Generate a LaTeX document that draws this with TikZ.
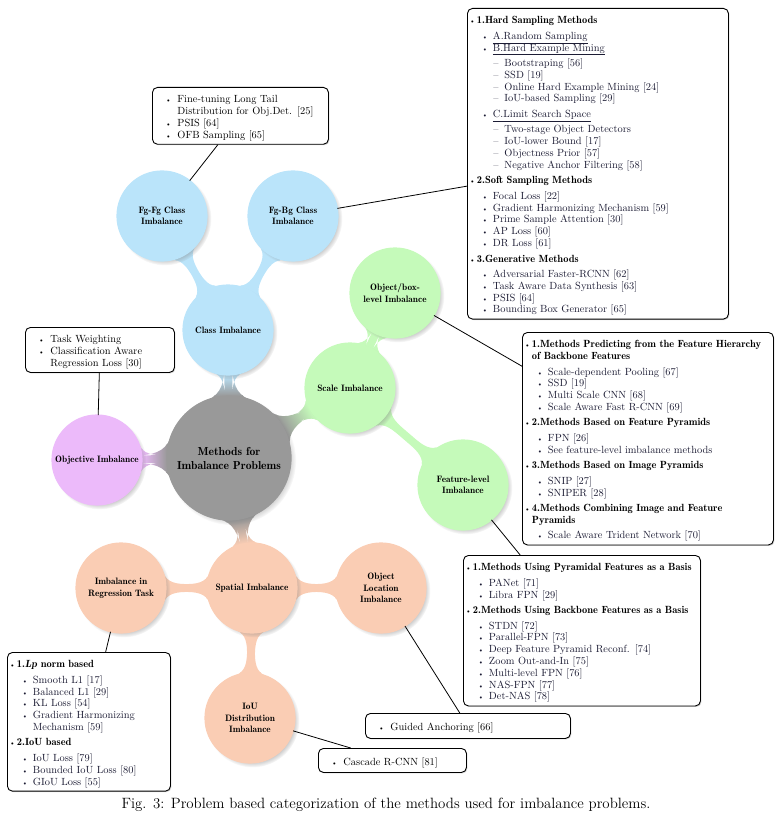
\documentclass[tikz,border=0pt]{standalone}
\usepackage{enumitem}
\usetikzlibrary{mindmap,shadows,backgrounds}

\definecolor{rootgray}{RGB}{153,153,153}
\definecolor{classblue}{RGB}{186,228,250}
\definecolor{scalegreen}{RGB}{197,250,186}
\definecolor{objpink}{RGB}{236,186,250}
\definecolor{spatialorange}{RGB}{250,205,180}
\definecolor{itemnavy}{RGB}{28,28,52}

\newcommand\heading[1]{{\fontseries{b}\selectfont#1}}
\newcommand\subhead[1]{\raisebox{0pt}[\height][0pt]{\underline{#1}}}

\newlist{catlist}{itemize}{3}
\setlist[catlist]{nosep}
\setlist[catlist,1]{label={\scriptsize\textbullet},leftmargin=5.5pt,labelsep=1.5pt,
  after=\vspace{-3.7pt}}
\setlist[catlist,2]{label={\scriptsize\textbullet},leftmargin=16pt,labelsep=5pt,topsep=3.7pt,
  before=\color{itemnavy}}
\setlist[catlist,3]{label={--},leftmargin=11.5pt,labelsep=6pt,topsep=3.7pt}
\newlist{reflist}{itemize}{1}
\setlist[reflist]{nosep,label={\scriptsize\textbullet},leftmargin=21pt,labelsep=6pt}

\begin{document}
\begin{tikzpicture}[x=1pt,y=-1pt,
    topic/.style={concept color=#1,concept,minimum size=90pt,text width=84pt,inner sep=0pt,
      align=center,font=\fontsize{9.3}{11.5}\fontseries{b}\selectfont,
      circular drop shadow={shadow scale=1.04,shadow xshift=2.5pt,shadow yshift=-2.5pt,opacity=.5}},
    branch/.style 2 args={draw=none,circle connection bar switch color=from (#1) to (#2),
      decoration={amplitude=8pt}},
    refbox/.style={draw,line width=.9pt,rounded corners=5pt,fill=white,anchor=north west,
      align=left,inner xsep=4pt,inner ysep=3.5pt,font=\fontsize{10.4}{11.8}\selectfont,
      drop shadow={shadow xshift=1pt,shadow yshift=-1pt,opacity=.35}},
    every edge/.style={draw,line width=.8pt}]

  \useasboundingbox (0,0) rectangle (778,826);

  \begin{scope}[mindmap]
  \node [topic=rootgray,minimum size=124pt,text width=118pt,
    font=\fontsize{11.6}{14}\fontseries{b}\selectfont] (root) at (229,458) {Methods for\\Imbalance Problems};

  \node [topic=classblue] (cls) at (228,330) {Class Imbalance};
  \node [topic=classblue] (fgfg) at (162,216) {Fg-Fg Class\\Imbalance};
  \node [topic=classblue] (fgbg) at (293,216) {Fg-Bg Class\\Imbalance};

  \node [topic=scalegreen] (scale) at (350,388) {Scale Imbalance};
  \node [topic=scalegreen] (objlvl) at (395,293) {Object/box-\\level Imbalance};
  \node [topic=scalegreen] (featlvl) at (463,485) {Feature-level\\Imbalance};

  \node [topic=objpink] (objective) at (97,460) {Objective Imbalance};

  \node [topic=spatialorange] (spatial) at (252,588) {Spatial Imbalance};
  \node [topic=spatialorange] (regress) at (121,588) {Imbalance in\\Regression Task};
  \node [topic=spatialorange] (objloc) at (381,588) {Object\\Location\\Imbalance};
  \node [topic=spatialorange] (ioudist) at (250,718) {IoU\\Distribution\\Imbalance};

  \begin{pgfonlayer}{background}
    \path (cls) to [branch={classblue}{rootgray}] (root);
    \path (fgfg) to [branch={classblue}{classblue}] (cls);
    \path (fgbg) to [branch={classblue}{classblue}] (cls);
    \path (scale) to [branch={scalegreen}{rootgray}] (root);
    \path (objlvl) to [branch={scalegreen}{scalegreen}] (scale);
    \path (featlvl) to [branch={scalegreen}{scalegreen}] (scale);
    \path (objective) to [branch={objpink}{rootgray}] (root);
    \path (spatial) to [branch={spatialorange}{rootgray}] (root);
    \path (regress) to [branch={spatialorange}{spatialorange}] (spatial);
    \path (objloc) to [branch={spatialorange}{spatialorange}] (spatial);
    \path (ioudist) to [branch={spatialorange}{spatialorange}] (spatial);
  \end{pgfonlayer}
  \end{scope}

  \node [refbox,text width=168pt] (fgfgrefs) at (152,87) {%
    \begin{reflist}
      \item Fine-tuning Long Tail\\Distribution for Obj.Det. [25]
      \item PSIS [64]
      \item OFB Sampling [65]
    \end{reflist}}
    edge (fgfg);

  \node [refbox,text width=253pt] (fgbgrefs) at (467,8) {%
    \begin{catlist}
      \item \heading{1.Hard Sampling Methods}
      \begin{catlist}
        \item \subhead{A.Random Sampling}
        \item \subhead{B.Hard Example Mining}
        \begin{catlist}
          \item Bootstraping [56]
          \item SSD [19]
          \item Online Hard Example Mining [24]
          \item IoU-based Sampling [29]
        \end{catlist}
        \item \subhead{C.Limit Search Space}
        \begin{catlist}
          \item Two-stage Object Detectors
          \item IoU-lower Bound [17]
          \item Objectness Prior [57]
          \item Negative Anchor Filtering [58]
        \end{catlist}
      \end{catlist}
      \item \heading{2.Soft Sampling Methods}
      \begin{catlist}
        \item Focal Loss [22]
        \item Gradient Harmonizing Mechanism [59]
        \item Prime Sample Attention [30]
        \item AP Loss [60]
        \item DR Loss [61]
      \end{catlist}
      \item \heading{3.Generative Methods}
      \begin{catlist}
        \item Adversarial Faster-RCNN [62]
        \item Task Aware Data Synthesis [63]
        \item PSIS [64]
        \item Bounding Box Generator [65]
      \end{catlist}
    \end{catlist}}
    edge (fgbg);

  \node [refbox,text width=141pt] (objectiverefs) at (25,327) {%
    \begin{reflist}
      \item Task Weighting
      \item Classification Aware\\Regression Loss [30]
    \end{reflist}}
    edge (objective);

  \node [refbox,text width=243pt] (objlvlrefs) at (522,332) {%
    \begin{catlist}
      \item \heading{1.Methods Predicting from the Feature Hierarchy\\of Backbone Features}
      \begin{catlist}
        \item Scale-dependent Pooling [67]
        \item SSD [19]
        \item Multi Scale CNN [68]
        \item Scale Aware Fast R-CNN [69]
      \end{catlist}
      \item \heading{2.Methods Based on Feature Pyramids}
      \begin{catlist}
        \item FPN [26]
        \item See feature-level imbalance methods
      \end{catlist}
      \item \heading{3.Methods Based on Image Pyramids}
      \begin{catlist}
        \item SNIP [27]
        \item SNIPER [28]
      \end{catlist}
      \item \heading{4.Methods Combining Image and Feature\\Pyramids}
      \begin{catlist}
        \item Scale Aware Trident Network [70]
      \end{catlist}
    \end{catlist}}
    edge (objlvl);

  \node [refbox,text width=229pt] (featlvlrefs) at (463,555) {%
    \begin{catlist}
      \item \heading{1.Methods Using Pyramidal Features as a Basis}
      \begin{catlist}
        \item PANet [71]
        \item Libra FPN [29]
      \end{catlist}
      \item \heading{2.Methods Using Backbone Features as a Basis}
      \begin{catlist}
        \item STDN [72]
        \item Parallel-FPN [73]
        \item Deep Feature Pyramid Reconf. [74]
        \item Zoom Out-and-In [75]
        \item Multi-level FPN [76]
        \item NAS-FPN [77]
        \item Det-NAS [78]
      \end{catlist}
    \end{catlist}}
    edge (featlvl);

  \node [refbox,text width=155pt] (regressrefs) at (7,652) {%
    \begin{catlist}
      \item \heading{1.\textit{Lp} norm based}
      \begin{catlist}
        \item Smooth L1 [17]
        \item Balanced L1 [29]
        \item KL Loss [54]
        \item Gradient Harmonizing\\Mechanism [59]
      \end{catlist}
      \item \heading{2.IoU based}
      \begin{catlist}
        \item IoU Loss [79]
        \item Bounded IoU Loss [80]
        \item GIoU Loss [55]
      \end{catlist}
    \end{catlist}}
    edge (regress);

  \node [refbox,text width=197pt,minimum height=25pt] (objlocrefs) at (365,713) {%
    \begin{reflist}
      \item Guided Anchoring [66]
    \end{reflist}}
    edge (objloc);

  \node [refbox,text width=140pt,minimum height=24pt] (ioudistrefs) at (318,748) {%
    \begin{reflist}
      \item Cascade R-CNN [81]
    \end{reflist}}
    edge (ioudist);

  \node [font=\fontsize{14.9}{17}\selectfont] (caption) at (386,805)
    {Fig. 3: Problem based categorization of the methods used for imbalance problems.};

\end{tikzpicture}
\end{document}
